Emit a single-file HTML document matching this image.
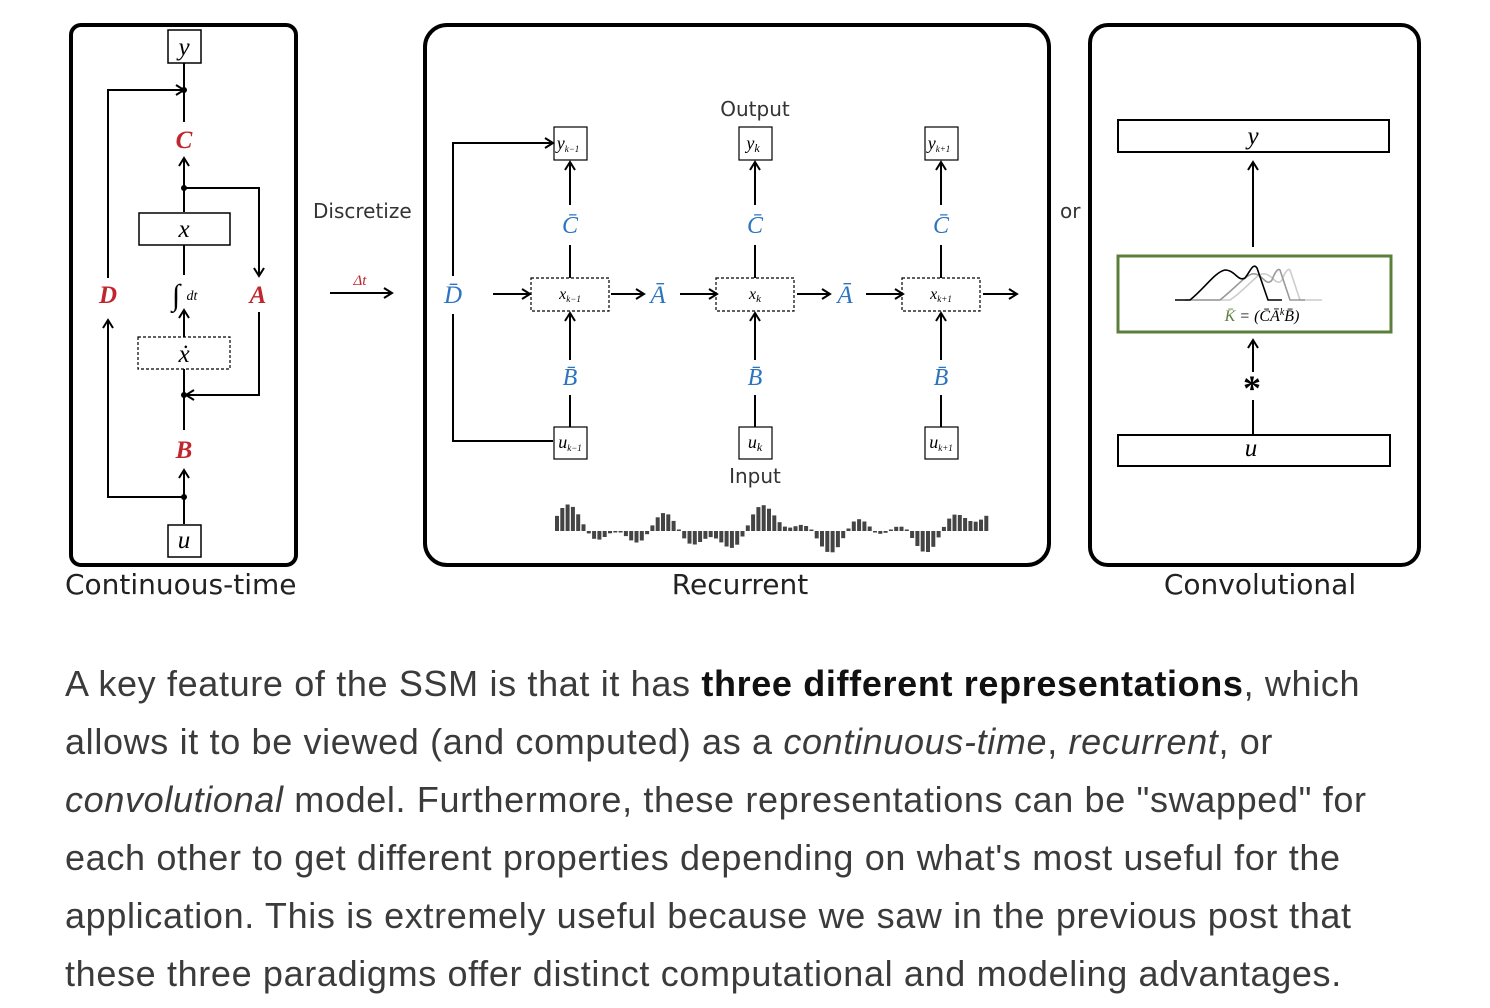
<!DOCTYPE html>
<html><head><meta charset="utf-8"><style>
body{margin:0;background:#fff;width:1490px;height:1008px;overflow:hidden;position:relative}
svg{position:absolute;left:0;top:0}
.m{font-family:"Liberation Serif",serif;font-style:italic}
.lab{font-family:"DejaVu Sans","Liberation Sans",sans-serif;fill:#222}
p{position:absolute;left:65px;top:655px;margin:0;width:1420px;white-space:nowrap;font-family:"Liberation Sans",sans-serif;font-size:36px;letter-spacing:0.65px;line-height:58px;color:#3b3b3b}
</style></head><body>
<svg width="1490" height="640" viewBox="0 0 1490 640">
<defs><marker id="a" markerWidth="12" markerHeight="12" refX="10" refY="6" orient="auto" markerUnits="userSpaceOnUse"><path d="M2,1 L10,6 L2,11" fill="none" stroke="#000" stroke-width="2"/></marker></defs>
<g fill="none" stroke="#000" stroke-width="2">
<rect x="71" y="25" width="225" height="540" rx="10" stroke-width="4"/>
<rect x="168" y="30" width="33" height="33" stroke-width="1.5"/>
<line x1="184" y1="63" x2="184" y2="122"/>
<path d="M108,278 V90 H184" marker-end="url(#a)"/>
<line x1="184" y1="212" x2="184" y2="158" marker-end="url(#a)"/>
<path d="M184,188 H259 V276" marker-end="url(#a)"/>
<rect x="139" y="213" width="91" height="32" stroke-width="1.5"/>
<line x1="184" y1="245" x2="184" y2="275"/>
<line x1="184" y1="337" x2="184" y2="310" marker-end="url(#a)"/>
<rect x="138" y="337" width="92" height="32" stroke-width="1.2" stroke-dasharray="3,2"/>
<line x1="184" y1="369" x2="184" y2="430"/>
<path d="M259,312 V395 H186" marker-end="url(#a)"/>
<line x1="184" y1="524" x2="184" y2="470" marker-end="url(#a)"/>
<path d="M184,497 H108 V320" marker-end="url(#a)"/>
<rect x="168" y="525" width="33" height="32" stroke-width="1.5"/>
<line x1="330" y1="293" x2="392" y2="293" marker-end="url(#a)"/>
<rect x="425" y="25" width="624" height="540" rx="22" stroke-width="4"/>
<path d="M453,276 V143 H553" marker-end="url(#a)"/>
<path d="M453,314 V441 H553"/>
<line x1="493" y1="294" x2="530" y2="294" marker-end="url(#a)"/>
<line x1="611" y1="294" x2="644" y2="294" marker-end="url(#a)"/>
<line x1="680" y1="294" x2="717" y2="294" marker-end="url(#a)"/>
<line x1="797" y1="294" x2="830" y2="294" marker-end="url(#a)"/>
<line x1="866" y1="294" x2="903" y2="294" marker-end="url(#a)"/>
<line x1="983" y1="294" x2="1017" y2="294" marker-end="url(#a)"/>
<rect x="1090" y="25" width="329" height="540" rx="18" stroke-width="4"/>
<rect x="1118" y="120" width="271" height="32"/>
<line x1="1253" y1="247" x2="1253" y2="162" marker-end="url(#a)"/>
<rect x="1118" y="256" width="273" height="76" stroke="#5b7f3b" stroke-width="3"/>
<line x1="1253" y1="372" x2="1253" y2="340" marker-end="url(#a)"/>
<line x1="1253" y1="400" x2="1253" y2="435"/>
<rect x="1118" y="435" width="272" height="31"/>
<path d="M1195,300 L1230,300 C1245,290 1255,276 1262,274 C1272,272 1276,288 1282,280 C1285,272 1288,268 1290,270 L1300,300 H1322" stroke="#ccc" stroke-width="1.6"/>
<path d="M1185,300 L1220,300 C1235,288 1245,276 1252,274 C1262,272 1266,288 1272,280 C1275,272 1278,268 1280,270 L1290,300 H1305" stroke="#999" stroke-width="1.6"/>
<path d="M1175,300 H1190 C1205,288 1215,272 1225,270 C1235,270 1238,282 1245,278 C1250,272 1253,262 1257,268 L1268,300 H1282" stroke="#000" stroke-width="1.6"/>
</g>
<g fill="#000"><circle cx="184" cy="90" r="3"/><circle cx="184" cy="188" r="3"/><circle cx="184" cy="395" r="3"/><circle cx="184" cy="497" r="3"/></g>
<g id="cols"></g>
<g id="wave" fill="#444"></g>
<g class="m" font-size="25" text-anchor="middle">
<text x="184" y="55">y</text><text x="184" y="148" fill="#c0262d" font-weight="bold">C</text>
<text x="184" y="237">x</text><text x="108" y="303" fill="#c0262d" font-weight="bold">D</text>
<text x="258" y="303" fill="#c0262d" font-weight="bold">A</text>
<text x="184" y="362">ẋ</text><text x="184" y="458" fill="#c0262d" font-weight="bold">B</text>
<text x="184" y="548">u</text>
<text x="176" y="305" font-size="30" font-style="normal">∫</text><text x="192" y="300" font-size="14">dt</text>
<text x="360" y="285" font-size="15" fill="#c0262d">Δt</text>
<text x="453" y="303" fill="#2d74c0">D̄</text>
<text x="658" y="303" fill="#2d74c0">Ā</text><text x="845" y="303" fill="#2d74c0">Ā</text>
<text x="1253" y="144">y</text><text x="1251" y="456">u</text>
<text x="1252" y="400" font-size="36" font-style="normal" font-weight="bold">*</text>
<text x="1262" y="321" font-size="16"><tspan fill="#5b7f3b">K̄</tspan> = (C̄Ā<tspan font-size="10" dy="-6">k</tspan><tspan dy="6">B̄)</tspan></text>
</g>
<g class="lab"><text x="313" y="218" font-size="20" fill="#333">Discretize</text>
<text x="755" y="116" font-size="20" text-anchor="middle" fill="#333">Output</text>
<text x="755" y="483" font-size="20" text-anchor="middle" fill="#333">Input</text>
<text x="1060" y="218" font-size="20" fill="#333">or</text>
<text x="65" y="594" font-size="28">Continuous-time</text>
<text x="740" y="594" font-size="28" text-anchor="middle">Recurrent</text>
<text x="1260" y="594" font-size="28" text-anchor="middle">Convolutional</text></g>
</svg>
<p>A key feature of the SSM is that it has <b style="color:#111">three different representations</b>, which<br>allows it to be viewed (and computed) as a <i>continuous-time</i>, <i>recurrent</i>, or<br><i>convolutional</i> model. Furthermore, these representations can be "swapped" for<br>each other to get different properties depending on what's most useful for the<br>application. This is extremely useful because we saw in the previous post that<br>these three paradigms offer distinct computational and modeling advantages.</p>
<script>
var c=document.getElementById("cols"),h="";
var subs=["k−1","k","k+1"];
[570,755,941].forEach(function(x,i){
h+='<g fill="none" stroke="#000" stroke-width="2"><rect x="'+(x-16)+'" y="127" width="33" height="33" stroke-width="1.2"/><line x1="'+x+'" y1="278" x2="'+x+'" y2="245"/><line x1="'+x+'" y1="205" x2="'+x+'" y2="162" marker-end="url(#a)"/><rect x="'+(x-39)+'" y="278" width="78" height="33" stroke-width="1.2" stroke-dasharray="3,2"/><line x1="'+x+'" y1="360" x2="'+x+'" y2="313" marker-end="url(#a)"/><line x1="'+x+'" y1="395" x2="'+x+'" y2="427"/><rect x="'+(x-16)+'" y="427" width="33" height="32" stroke-width="1.2"/></g>';
h+='<g class="m" text-anchor="middle" font-size="18"><text x="'+(x-2)+'" y="149">y<tspan font-size="'+(i==1?12:9)+'" dy="3">'+subs[i]+'</tspan></text><text x="'+x+'" y="299" font-size="16">x<tspan font-size="'+(i==1?11:9)+'" dy="3">'+subs[i]+'</tspan></text><text x="'+x+'" y="448">u<tspan font-size="'+(i==1?12:9)+'" dy="3">'+subs[i]+'</tspan></text><text x="'+x+'" y="233" font-size="24" fill="#2d74c0">C̄</text><text x="'+x+'" y="385" font-size="24" fill="#2d74c0">B̄</text></g>';
});
c.innerHTML=h;
var w="";
for(var i=0;i<82;i++){var x=555+i*5.3;var t=i/82;
var v=7*Math.sin(t*Math.PI*2*4.2+1.2)+5*Math.sin(t*Math.PI*2*9.1)+3*Math.sin(t*Math.PI*2*2.3+0.5);
var hh=Math.max(Math.abs(v)*1.9,1.5);var y=v>0?531-hh:531;
w+='<rect x="'+x.toFixed(1)+'" y="'+y.toFixed(1)+'" width="4" height="'+hh.toFixed(1)+'"/>';}
document.getElementById("wave").innerHTML=w;
</script>
</body></html>
